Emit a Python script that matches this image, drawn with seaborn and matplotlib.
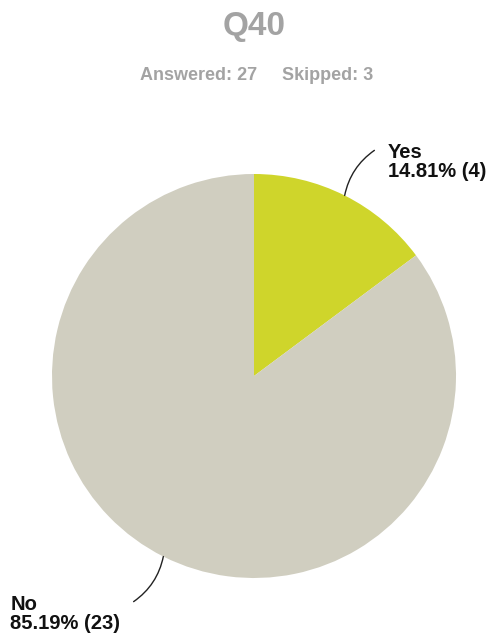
import numpy as np
import matplotlib
matplotlib.use("Agg")
import matplotlib.pyplot as plt
import seaborn as sns

# Survey question summary
question = "Q40"
answered = 27
skipped = 3
categories = ["Yes", "No"]
counts = [4, 23]
percents = [14.81, 85.19]
slice_colors = ["#cfd52b", "#d0cec0"]

sns.set_theme(style="white")
plt.rcParams["font.family"] = ["Liberation Sans", "DejaVu Sans"]

fig = plt.figure(figsize=(4.89, 6.39), dpi=100)
fig.patch.set_facecolor("white")

W, H = 489, 639
cx, cy, r = 254, 376, 202
ax = fig.add_axes([(cx - r) / W, (H - cy - r) / H, 2 * r / W, 2 * r / H])

wedges, _ = ax.pie(counts, colors=slice_colors, startangle=90, counterclock=False,
                   radius=1.0, wedgeprops=dict(linewidth=0))
ax.set_xlim(-1, 1)
ax.set_ylim(-1, 1)
ax.set_aspect("equal")
ax.axis("off")

# Leader lines and labels
for w, cat, pct, n in zip(wedges, categories, percents, counts):
    mid = np.deg2rad((w.theta1 + w.theta2) / 2)
    edge = np.array([np.cos(mid), np.sin(mid)])
    end = 1.25 * edge + np.array([0.035 * np.sign(edge[0]), 0.0])
    right = edge[0] > 0
    ax.annotate("", xy=edge, xytext=end,
                arrowprops=dict(arrowstyle="-", color="#222222", lw=1.0,
                                shrinkA=0, shrinkB=0,
                                connectionstyle="arc3,rad=0.2"),
                annotation_clip=False)
    label = f"{cat}\n{pct:.2f}% ({n})"
    tx = end[0] + (0.065 if right else -0.065)
    ax.text(tx, end[1] - 0.06, label, ha="left" if right else "right",
            multialignment="left", va="center", fontsize=14.5, fontweight="bold",
            color="#111111", linespacing=1.0, clip_on=False)

# Header
gray = "#a3a3a3"
fig.text(254 / W, 1 - 27 / H, question, ha="center", va="center",
         fontsize=24, fontweight="bold", color=gray)
fig.text(257 / W, 1 - 76 / H, f"Answered: {answered}", ha="right", va="center",
         fontsize=13, fontweight="bold", color=gray)
fig.text(282 / W, 1 - 76 / H, f"Skipped: {skipped}", ha="left", va="center",
         fontsize=13, fontweight="bold", color=gray)

fig.savefig("out.png", dpi=100)
